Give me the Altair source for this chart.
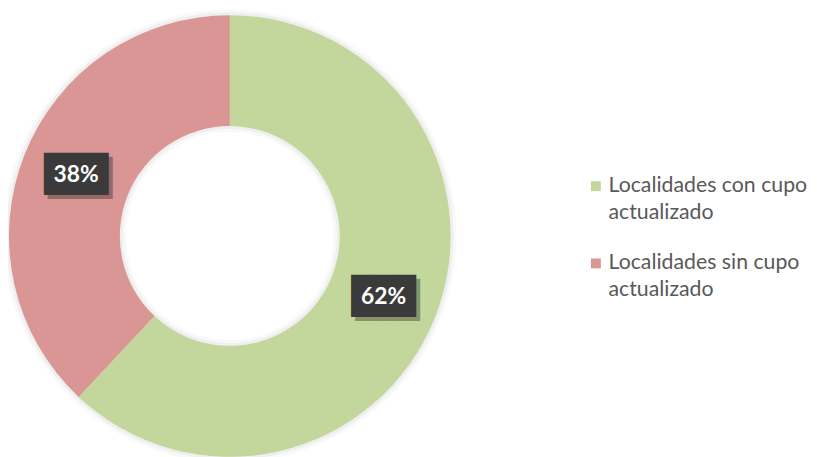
import altair as alt
import pandas as pd

categories = ["Localidades con cupo actualizado", "Localidades sin cupo actualizado"]
values = [62, 38]
labels = ["62%", "38%"]
order = [0, 1]
colors = ["#c3d69b", "#d99694"]

df = pd.DataFrame({"cat": categories, "val": values, "lab": labels, "ord": order})

CX, CY = 224, 228
R_OUT, R_IN, R_LAB = 223, 111, 167

base = alt.Chart(df).encode(
    theta=alt.Theta("val:Q", stack=True),
    order=alt.Order("ord:Q"),
)

shadow1 = base.mark_arc(outerRadius=R_OUT + 6, innerRadius=R_IN - 6, x=CX, y=CY,
                        color="#000000", opacity=0.025)
shadow2 = base.mark_arc(outerRadius=R_OUT + 3, innerRadius=R_IN - 3, x=CX, y=CY,
                        color="#000000", opacity=0.04)

arc = base.mark_arc(outerRadius=R_OUT, innerRadius=R_IN, x=CX, y=CY, stroke=None).encode(
    color=alt.Color(
        "cat:N",
        scale=alt.Scale(domain=categories, range=colors),
        legend=alt.Legend(
            title=None,
            orient="none",
            legendX=583,
            legendY=167,
            symbolType="square",
            symbolSize=100,
            symbolStrokeWidth=0,
            labelFont="Lato",
            labelFontSize=21.5,
            labelColor="#595959",
            labelLimit=400,
            labelOffset=2,
            labelExpr="split(replace(datum.label, ' actualizado', '|actualizado'), '|')",
            rowPadding=28,
            padding=0,
        ),
    )
)

box_shadow = base.mark_text(radius=R_LAB, x=CX, y=CY, font="DejaVu Sans Mono", fontSize=36,
                            color="#000000", opacity=0.3, dx=4, dy=4,
                            align="center", baseline="middle").encode(text=alt.value("\u2588\u2588\u2588"))
box = base.mark_text(radius=R_LAB, x=CX, y=CY, font="DejaVu Sans Mono", fontSize=36,
                     color="#3a3a3a", align="center", baseline="middle").encode(text=alt.value("\u2588\u2588\u2588"))
txt = base.mark_text(radius=R_LAB, x=CX, y=CY, font="Lato", fontSize=23, fontWeight="bold",
                     color="#ffffff", align="center", baseline="middle").encode(text="lab:N")

chart = alt.layer(shadow1, shadow2, arc, box_shadow, box, txt).properties(
    width=809, height=449,
    autosize=alt.AutoSizeParams(type="none"),
    padding=0,
    background="#ffffff",
).configure_view(stroke=None).configure(style={"guide-label": {"lineHeight": 27}})

chart.save("out.html", embed_options={"renderer": "svg", "actions": False})
